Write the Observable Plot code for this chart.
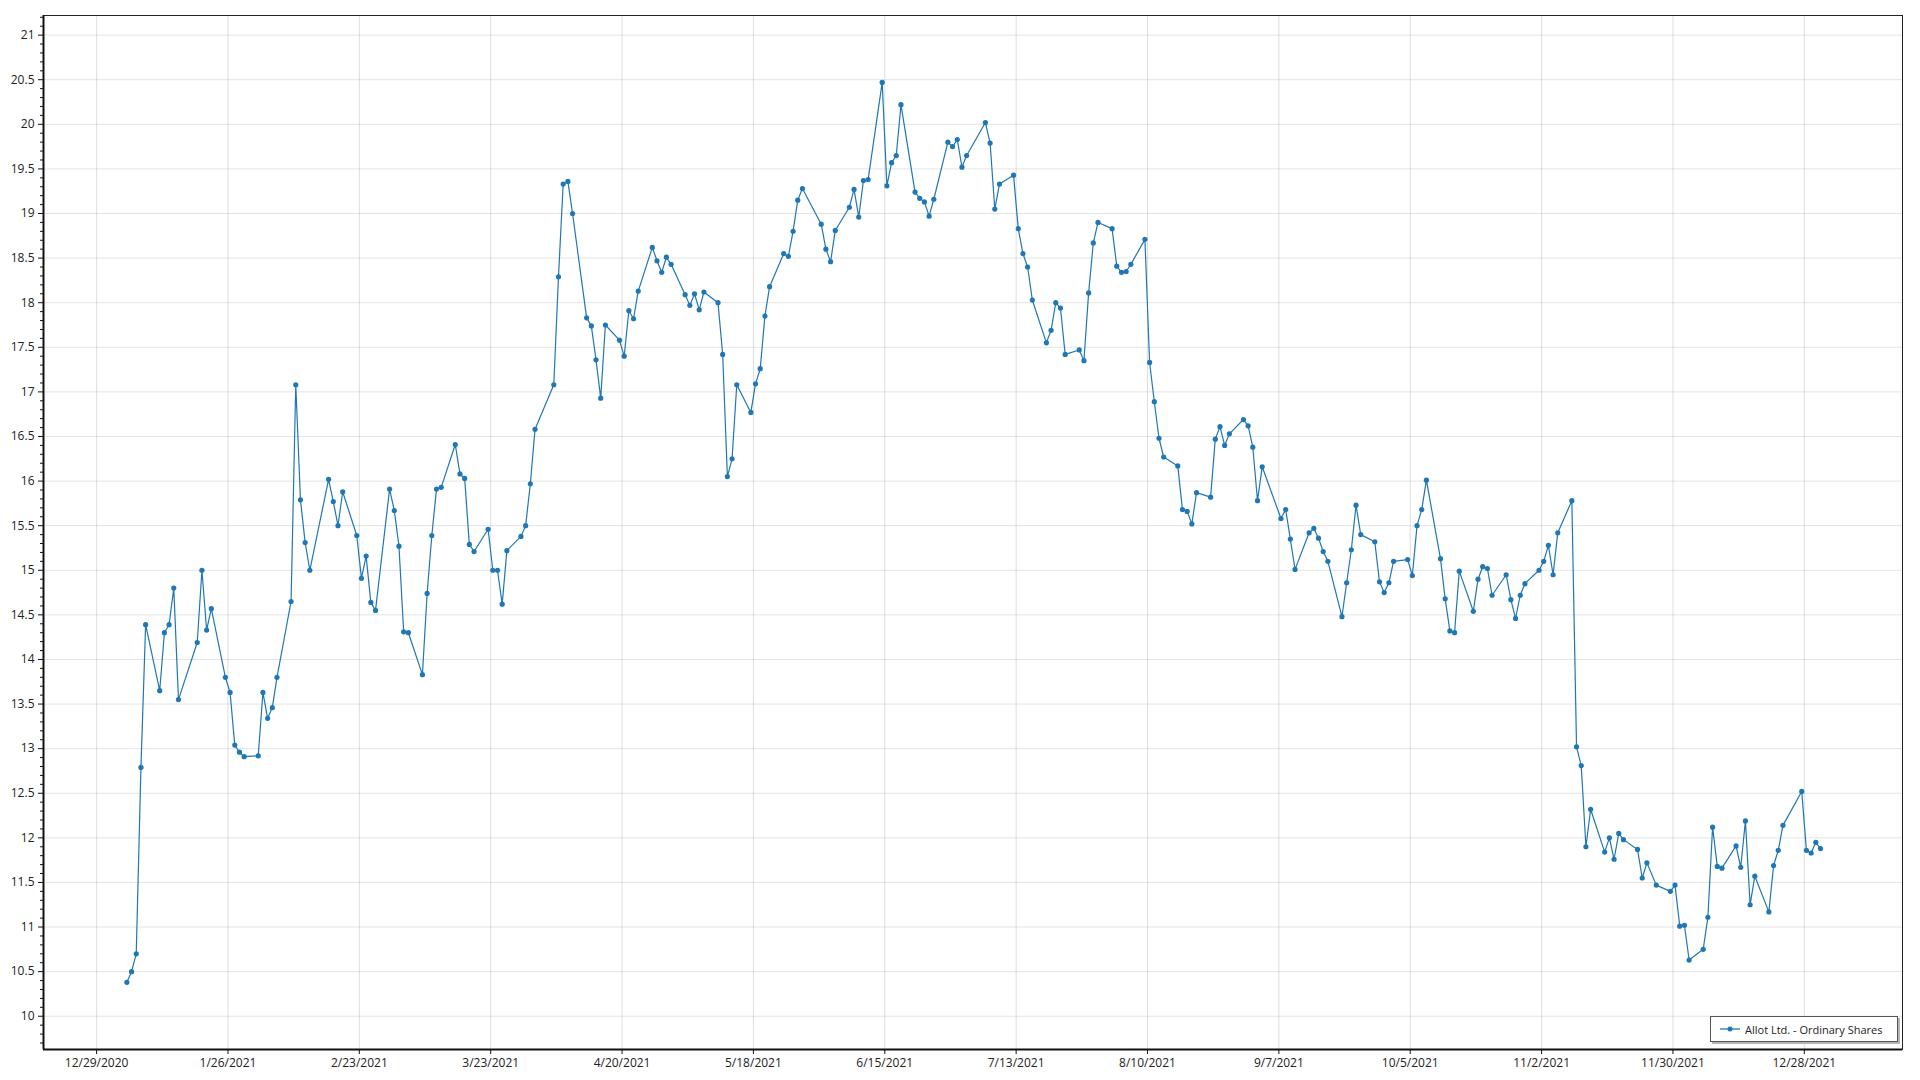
<!DOCTYPE html>
<html>
<head>
<meta charset="utf-8">
<script src="https://cdn.jsdelivr.net/npm/d3@7"></script>
<script src="https://cdn.jsdelivr.net/npm/@observablehq/plot@0.6"></script>
<style>
  html, body { margin: 0; padding: 0; background: #fff; }
  #wrap { position: relative; width: 1920px; height: 1080px; }
  #legend {
    position: absolute; left: 1710px; top: 1016px; width: 188px; height: 26px;
    border: 1px solid #555; background: #fff; box-shadow: 2px 2px 0 #b5b5b5;
    font-family: "Open Sans", "Noto Sans", sans-serif; font-size: 11px; color: #222;
    display: flex; align-items: center; box-sizing: border-box; padding-left: 9px;
    white-space: nowrap;
  }
  #legend svg { margin-right: 5px; flex: none; }
</style>
</head>
<body>
<div id="wrap">
  <div id="chart"></div>
  <div id="legend"><svg width="20" height="10"><line x1="0" y1="5" x2="20" y2="5" stroke="#1f77b4" stroke-width="1.3"/><circle cx="10" cy="5" r="2.5" fill="#1f77b4"/></svg><span id="legendText"></span></div>
</div>
<script>
const seriesName = "Allot Ltd. - Ordinary Shares";

const dates = [
"2021-01-04","2021-01-05","2021-01-06","2021-01-07","2021-01-08",
"2021-01-11","2021-01-12","2021-01-13","2021-01-14","2021-01-15",
"2021-01-19","2021-01-20","2021-01-21","2021-01-22",
"2021-01-25","2021-01-26","2021-01-27","2021-01-28","2021-01-29",
"2021-02-01","2021-02-02","2021-02-03","2021-02-04","2021-02-05",
"2021-02-08","2021-02-09","2021-02-10","2021-02-11","2021-02-12",
"2021-02-16","2021-02-17","2021-02-18","2021-02-19",
"2021-02-22","2021-02-23","2021-02-24","2021-02-25","2021-02-26",
"2021-03-01","2021-03-02","2021-03-03","2021-03-04","2021-03-05",
"2021-03-08","2021-03-09","2021-03-10","2021-03-11","2021-03-12",
"2021-03-15","2021-03-16","2021-03-17","2021-03-18","2021-03-19",
"2021-03-22","2021-03-23","2021-03-24","2021-03-25","2021-03-26",
"2021-03-29","2021-03-30","2021-03-31","2021-04-01",
"2021-04-05","2021-04-06","2021-04-07","2021-04-08","2021-04-09",
"2021-04-12","2021-04-13","2021-04-14","2021-04-15","2021-04-16",
"2021-04-19","2021-04-20","2021-04-21","2021-04-22","2021-04-23",
"2021-04-26","2021-04-27","2021-04-28","2021-04-29","2021-04-30",
"2021-05-03","2021-05-04","2021-05-05","2021-05-06","2021-05-07",
"2021-05-10","2021-05-11","2021-05-12","2021-05-13","2021-05-14",
"2021-05-17","2021-05-18","2021-05-19","2021-05-20","2021-05-21",
"2021-05-24","2021-05-25","2021-05-26","2021-05-27","2021-05-28",
"2021-06-01","2021-06-02","2021-06-03","2021-06-04",
"2021-06-07","2021-06-08","2021-06-09","2021-06-10","2021-06-11",
"2021-06-14","2021-06-15","2021-06-16","2021-06-17","2021-06-18",
"2021-06-21","2021-06-22","2021-06-23","2021-06-24","2021-06-25",
"2021-06-28","2021-06-29","2021-06-30","2021-07-01","2021-07-02",
"2021-07-06","2021-07-07","2021-07-08","2021-07-09",
"2021-07-12","2021-07-13","2021-07-14","2021-07-15","2021-07-16",
"2021-07-19","2021-07-20","2021-07-21","2021-07-22","2021-07-23",
"2021-07-26","2021-07-27","2021-07-28","2021-07-29","2021-07-30",
"2021-08-02","2021-08-03","2021-08-04","2021-08-05","2021-08-06",
"2021-08-09","2021-08-10","2021-08-11","2021-08-12","2021-08-13",
"2021-08-16","2021-08-17","2021-08-18","2021-08-19","2021-08-20",
"2021-08-23","2021-08-24","2021-08-25","2021-08-26","2021-08-27",
"2021-08-30","2021-08-31","2021-09-01","2021-09-02","2021-09-03",
"2021-09-07","2021-09-08","2021-09-09","2021-09-10",
"2021-09-13","2021-09-14","2021-09-15","2021-09-16","2021-09-17",
"2021-09-20","2021-09-21","2021-09-22","2021-09-23","2021-09-24",
"2021-09-27","2021-09-28","2021-09-29","2021-09-30","2021-10-01",
"2021-10-04","2021-10-05","2021-10-06","2021-10-07","2021-10-08",
"2021-10-11","2021-10-12","2021-10-13","2021-10-14","2021-10-15",
"2021-10-18","2021-10-19","2021-10-20","2021-10-21","2021-10-22",
"2021-10-25","2021-10-26","2021-10-27","2021-10-28","2021-10-29",
"2021-11-01","2021-11-02","2021-11-03","2021-11-04","2021-11-05",
"2021-11-08","2021-11-09","2021-11-10","2021-11-11","2021-11-12",
"2021-11-15","2021-11-16","2021-11-17","2021-11-18","2021-11-19",
"2021-11-22","2021-11-23","2021-11-24","2021-11-26",
"2021-11-29","2021-11-30","2021-12-01","2021-12-02","2021-12-03",
"2021-12-06","2021-12-07","2021-12-08","2021-12-09","2021-12-10",
"2021-12-13","2021-12-14","2021-12-15","2021-12-16","2021-12-17",
"2021-12-20","2021-12-21","2021-12-22","2021-12-23",
"2021-12-27","2021-12-28","2021-12-29","2021-12-30","2021-12-31"
];

const prices = [
10.38,10.50,10.70,12.79,14.39,
13.65,14.30,14.39,14.80,13.55,
14.19,15.00,14.33,14.57,
13.80,13.63,13.04,12.96,12.91,
12.92,13.63,13.34,13.46,13.80,
14.65,17.08,15.79,15.31,15.00,
16.02,15.77,15.50,15.88,
15.39,14.91,15.16,14.64,14.55,
15.91,15.67,15.27,14.31,14.30,
13.83,14.74,15.39,15.91,15.93,
16.41,16.08,16.03,15.29,15.21,
15.46,15.00,15.00,14.62,15.22,
15.38,15.50,15.97,16.58,
17.08,18.29,19.33,19.36,19.00,
17.83,17.74,17.36,16.93,17.75,
17.58,17.40,17.91,17.82,18.13,
18.62,18.47,18.34,18.51,18.43,
18.09,17.97,18.10,17.92,18.12,
18.00,17.42,16.05,16.25,17.08,
16.77,17.09,17.26,17.85,18.18,
18.55,18.52,18.80,19.15,19.28,
18.88,18.60,18.46,18.81,
19.07,19.27,18.96,19.37,19.38,
20.47,19.31,19.57,19.65,20.22,
19.24,19.17,19.13,18.97,19.16,
19.80,19.75,19.83,19.52,19.65,
20.02,19.79,19.05,19.33,
19.43,18.83,18.55,18.40,18.03,
17.55,17.69,18.00,17.94,17.42,
17.47,17.35,18.11,18.67,18.90,
18.83,18.41,18.34,18.35,18.43,
18.71,17.33,16.89,16.48,16.27,
16.17,15.68,15.66,15.52,15.87,
15.82,16.47,16.61,16.40,16.53,
16.69,16.62,16.38,15.78,16.16,
15.58,15.68,15.35,15.01,
15.42,15.47,15.36,15.21,15.10,
14.48,14.86,15.23,15.73,15.40,
15.32,14.87,14.75,14.86,15.10,
15.12,14.94,15.50,15.68,16.01,
15.13,14.68,14.32,14.30,14.99,
14.54,14.90,15.04,15.02,14.72,
14.95,14.67,14.46,14.72,14.85,
15.00,15.10,15.28,14.95,15.42,
15.78,13.02,12.81,11.90,12.32,
11.84,12.00,11.76,12.05,11.98,
11.87,11.55,11.72,11.47,
11.40,11.47,11.01,11.02,10.63,
10.75,11.11,12.12,11.68,11.66,
11.91,11.67,12.19,11.25,11.57,
11.17,11.69,11.86,12.14,
12.52,11.86,11.83,11.95,11.88
];

const xTickDates = [
"2020-12-29","2021-01-26","2021-02-23","2021-03-23","2021-04-20","2021-05-18","2021-06-15",
"2021-07-13","2021-08-10","2021-09-07","2021-10-05","2021-11-02","2021-11-30","2021-12-28"
];

const yMajorTicks = [10,10.5,11,11.5,12,12.5,13,13.5,14,14.5,15,15.5,16,16.5,17,17.5,18,18.5,19,19.5,20,20.5,21];

// axis configuration
const DAY = 864e5;
const pointOffset = 0.45 * DAY; // points sit slightly after midnight ticks
const xStart = new Date(Date.parse("2020-12-29T00:00:00Z") - 11.32 * DAY);
const xEnd = new Date(Date.parse("2020-12-29T00:00:00Z") + 384.93 * DAY);
const yDomain = [9.627, 21.22];

document.getElementById("legendText").textContent = seriesName;

const data = dates.map((d, i) => ({
  date: new Date(Date.parse(d + "T00:00:00Z") + pointOffset),
  value: prices[i],
  series: seriesName
}));
const xTicks = xTickDates.map(d => new Date(d + "T00:00:00Z"));
const yMinorTicks = d3.range(97, 213).map(v => v / 10).filter(v => Math.round(v * 10) % 5 !== 0);
const fmtDate = d => `${d.getUTCMonth() + 1}/${d.getUTCDate()}/${d.getUTCFullYear()}`;

const color = "#1f77b4";

const chart = Plot.plot({
  width: 1920,
  height: 1080,
  marginLeft: 43,
  marginRight: 18,
  marginTop: 15,
  marginBottom: 31,
  style: { fontFamily: "'Open Sans', 'Noto Sans', sans-serif", fontSize: "12px", color: "#222", background: "#fff" },
  x: { type: "utc", domain: [xStart, xEnd], label: null },
  y: { domain: yDomain, label: null },
  marks: [
    Plot.gridY(yMajorTicks, { stroke: "#000", strokeOpacity: 0.11 }),
    Plot.gridX(xTicks, { stroke: "#000", strokeOpacity: 0.13 }),
    Plot.frame({ stroke: "#222", strokeWidth: 1 }),
    Plot.ruleX([xStart], { stroke: "#111", strokeWidth: 2 }),
    Plot.ruleY([yDomain[0]], { stroke: "#111", strokeWidth: 2 }),
    Plot.axisY(yMinorTicks, { tickSize: 3, text: null, stroke: "#111", label: null }),
    Plot.axisY(yMajorTicks, { tickSize: 5, tickPadding: 4, tickFormat: d => String(d), stroke: "#111", label: null }),
    Plot.axisX(xTicks, { tickSize: 5, tickPadding: 4, tickFormat: fmtDate, stroke: "#111", label: null }),
    Plot.line(data, { x: "date", y: "value", stroke: color, strokeWidth: 1.2 }),
    Plot.dot(data, { x: "date", y: "value", r: 2.6, fill: color, stroke: "none" })
  ]
});
document.getElementById("chart").appendChild(chart);
</script>
</body>
</html>
